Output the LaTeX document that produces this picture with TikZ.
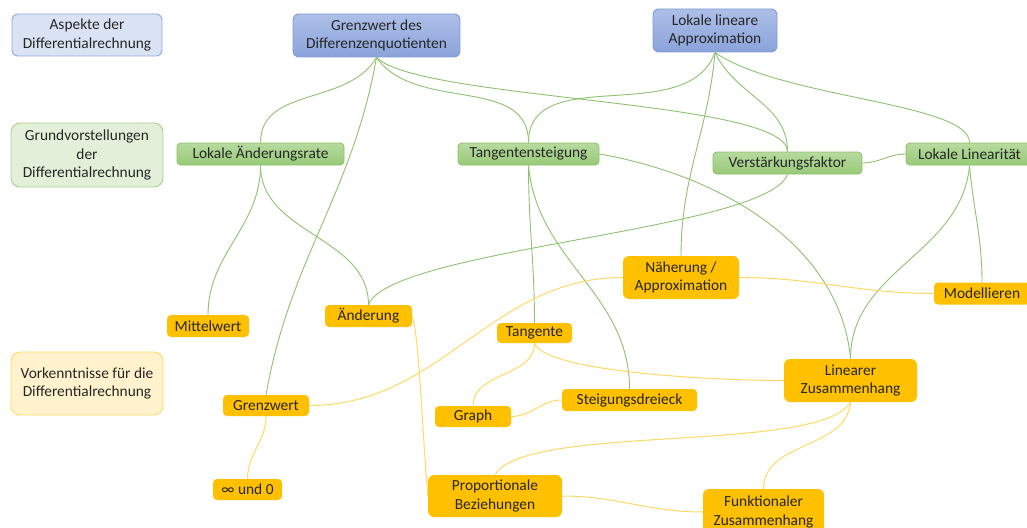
\documentclass[tikz,border=0pt]{standalone}
\usepackage{fontspec}
\setmainfont{Carlito}
\definecolor{txt}{HTML}{262626}
\definecolor{gline}{HTML}{8DC26F}
\definecolor{yline}{HTML}{FFD966}
\definecolor{blueA}{HTML}{AEBFE8}
\definecolor{blueB}{HTML}{8AA3DA}
\definecolor{blueD}{HTML}{7F9BD5}
\definecolor{greenA}{HTML}{B7DA9F}
\definecolor{greenB}{HTML}{98CA78}
\definecolor{greenD}{HTML}{8CC168}
\definecolor{gold}{HTML}{FFC000}
\definecolor{aspfill}{HTML}{DAE3F3}
\definecolor{aspdraw}{HTML}{8FAADC}
\definecolor{gvfill}{HTML}{E2F0D9}
\definecolor{gvdraw}{HTML}{A9D18E}
\definecolor{vkfill}{HTML}{FFF2CC}
\definecolor{vkdraw}{HTML}{FFD966}

\begin{document}
\begin{tikzpicture}[x=1pt, y=1pt, font=\fontsize{15.4}{18.6}\selectfont,
    box/.style = {rounded corners=6pt, align=center, inner sep=0pt, text=txt},
    aspekt/.style = {box, draw=aspdraw, fill=aspfill, line width=0.9pt},
    grundv/.style = {box, draw=gvdraw, fill=gvfill, line width=0.9pt, rounded corners=9pt},
    vork/.style = {box, draw=vkdraw, fill=vkfill, line width=0.9pt, rounded corners=9pt},
    topic/.style = {box, draw=blueD, top color=blueA, bottom color=blueB, line width=0.9pt},
    gv/.style = {box, draw=greenD, top color=greenA, bottom color=greenB, line width=0.9pt, rounded corners=4pt},
    vk/.style = {box, fill=gold, rounded corners=4pt},
    glink/.style = {draw=gline, line width=0.9pt},
    ylink/.style = {draw=yline, line width=1pt}]
    \useasboundingbox (0,0) rectangle (1027,-527);

    % legend
    \node[aspekt, minimum width=150, minimum height=42] (asp) at (87,-35) {Aspekte der\\Differentialrechnung};
    \node[grundv, minimum width=152, minimum height=64] (gvs) at (87,-155) {Grundvorstellungen\\der\\Differentialrechnung};
    \node[vork, minimum width=152, minimum height=63] (vkn) at (87,-383.5) {Vorkenntnisse f\"ur die\\Differentialrechnung};

    % aspects
    \node[topic, minimum width=167, minimum height=43] (gdd) at (376.5,-35.5) {Grenzwert des\\Differenzenquotienten};
    \node[topic, minimum width=124, minimum height=43] (lla) at (715,-30.5) {Lokale lineare\\Approximation};

    % basic ideas
    \node[gv, minimum width=167, minimum height=22] (lar) at (260.5,-154) {Lokale \"Anderungsrate};
    \node[gv, minimum width=141, minimum height=22] (tst) at (528.5,-154) {Tangentensteigung};
    \node[gv, minimum width=149, minimum height=22] (vfak) at (787.5,-163) {Verst\"arkungsfaktor};
    \node[gv, minimum width=127, minimum height=22] (llin) at (969.5,-154) {Lokale Linearit\"at};

    % prior knowledge
    \node[vk, minimum width=82, minimum height=22] (mw) at (208,-326) {Mittelwert};
    \node[vk, minimum width=87, minimum height=22] (aend) at (368.5,-316) {\"Anderung};
    \node[vk, minimum width=86, minimum height=21] (gw) at (266,-405.5) {Grenzwert};
    \node[vk, minimum width=69, minimum height=21] (inf) at (247.5,-489.5) {∞ und 0};
    \node[vk, minimum width=75, minimum height=20] (tang) at (534.5,-333) {Tangente};
    \node[vk, minimum width=76, minimum height=21] (graph) at (473,-416.5) {Graph};
    \node[vk, minimum width=135, minimum height=22] (steig) at (629.5,-400) {Steigungsdreieck};
    \node[vk, minimum width=116, minimum height=43, rounded corners=6pt] (naeh) at (681,-277.5) {N\"aherung /\\Approximation};
    \node[vk, minimum width=96, minimum height=22] (mod) at (982,-293.5) {Modellieren};
    \node[vk, minimum width=133, minimum height=43, rounded corners=6pt] (linz) at (850.5,-380.5) {Linearer\\Zusammenhang};
    \node[vk, minimum width=134, minimum height=42, rounded corners=6pt] (prop) at (495,-496) {Proportionale\\Beziehungen};
    \node[vk, minimum width=121, minimum height=46, rounded corners=6pt] (funk) at (763.5,-512) {Funktionaler\\Zusammenhang};

    % green links
    \draw[glink] (gdd.south) to[out=-120, in=90] (lar.north);
    \draw[glink] (gdd.south) to[out=-100, in=80] (gw.north);
    \draw[glink] (gdd.south) to[out=-55, in=90] (tst.north);
    \draw[glink] (gdd.south) to[out=-45, in=90, out distance=61, in distance=52] (vfak.north);
    \draw[glink] (lla.south) to[out=-110, in=90] (tst.north);
    \draw[glink] (lla.south) to[out=-95, in=90] (naeh.north);
    \draw[glink] (lla.south) to[out=-65, in=90] (vfak.north);
    \draw[glink] (lla.south) to[out=-35, in=90, out distance=80, in distance=40] (llin.north);
    \draw[glink] (lar.south) to[out=-90, in=90] (mw.north);
    \draw[glink] (lar.south) to[out=-90, in=90] (aend.north);
    \draw[glink] (vfak.south) to[out=-110, in=70, out distance=60, in distance=60] (aend.north);
    \draw[glink] (vfak.east) to[out=0, in=180] (llin.west);
    \draw[glink] (tst.south) to[out=-90, in=90] (tang.north);
    \draw[glink] (tst.south) to[out=-85, in=90] (steig.north);
    \draw[glink] (tst.east) to[out=-10, in=95, out distance=130, in distance=110] (linz.north);
    \draw[glink] (llin.south) to[out=-95, in=90] (linz.north);
    \draw[glink] (llin.south) to[out=-85, in=90] (mod.north);

    % yellow links
    \draw[ylink] (gw.east) to[out=0, in=180] (naeh.west);
    \draw[ylink] (gw.south) to[out=-90, in=90] (inf.north);
    \draw[ylink] (aend.east) to[out=-70, in=95, out distance=20, in distance=60] (prop.west);
    \draw[ylink] (tang.south) to[out=-90, in=90] (graph.north);
    \draw[ylink] (tang.south) to[out=-70, in=180, out distance=30, in distance=75] (linz.west);
    \draw[ylink] (graph.east) to[out=0, in=180] (steig.west);
    \draw[ylink] (naeh.east) to[out=0, in=180] (mod.west);
    \draw[ylink] (linz.south) to[out=-120, in=60, out distance=60, in distance=60] (prop.north);
    \draw[ylink] (linz.south) to[out=-95, in=90] (funk.north);
    \draw[ylink] (prop.east) to[out=0, in=180] (funk.west);
\end{tikzpicture}
\end{document}
